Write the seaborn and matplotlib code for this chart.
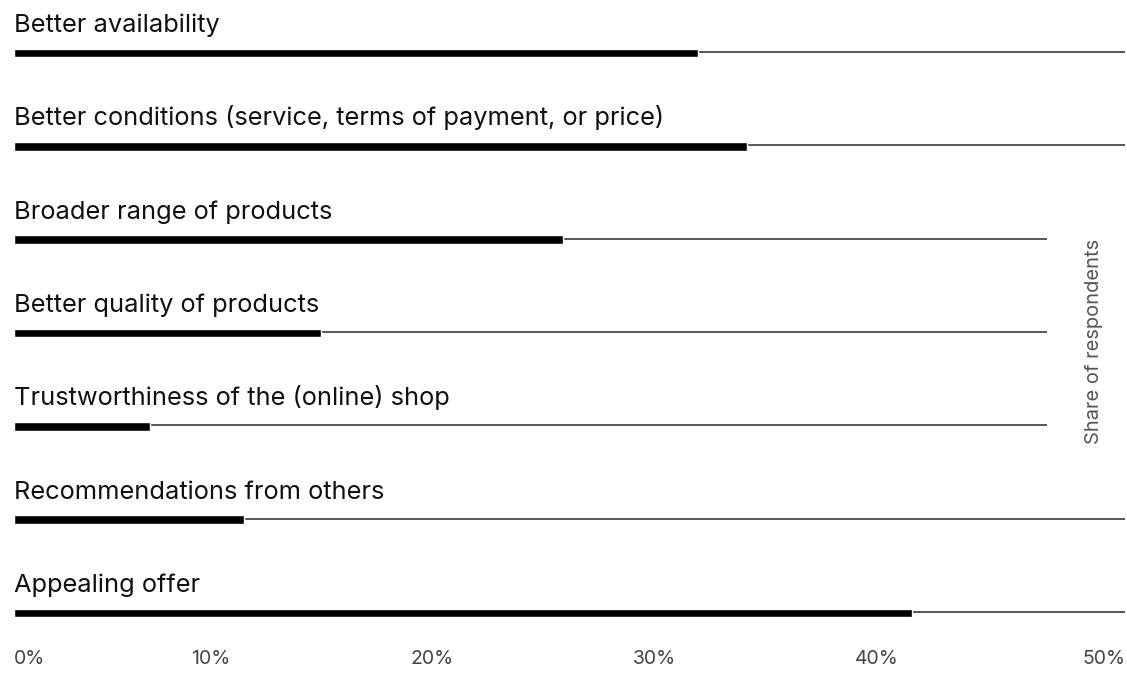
import matplotlib
matplotlib.use("Agg")
import seaborn as sns
import matplotlib.pyplot as plt
import matplotlib.transforms as mtrans

# data
categories = [
    "Better availability",
    "Better conditions (service, terms of payment, or price)",
    "Broader range of products",
    "Better quality of products",
    "Trustworthiness of the (online) shop",
    "Recommendations from others",
    "Appealing offer",
]
shares = [30.8, 33.0, 24.7, 13.8, 6.1, 10.35, 40.4]
tick_values = [0, 10, 20, 30, 40, 50]
tick_labels = ["0%", "10%", "20%", "30%", "40%", "50%"]
axis_label = "Share of respondents"

sns.set_theme(style="white")
plt.rcParams["font.family"] = ["Inter", "DejaVu Sans"]

W, H = 1127, 687
fig = plt.figure(figsize=(W / 100, H / 100), dpi=100)
# axes spans x 14..1125 px, y 0..640 px (from top)
ax = fig.add_axes([14 / W, 47 / H, 1111 / W, 640 / H])

row_px = 93.33
bar_h = 8.5 / row_px

# background tracks (shorter where the rotated label sits)
for i, cat in enumerate(categories):
    end = 46.5 if i in (2, 3, 4) else 50
    ax.hlines(i - 1.0 / row_px, 0, end, color="#3a3a3a", lw=1.2, zorder=1)

sns.barplot(x=shares, y=categories, orient="h", color="black", saturation=1,
            width=bar_h, ax=ax, zorder=2)

for i, cat in enumerate(categories):
    ax.text(0, i - 21 / row_px, cat, ha="left", va="baseline", fontsize=18.3,
            color="#111111", clip_on=False)

ax.set_xlim(0, 50)
ax.set_ylim(6 + (640 - 613) / row_px, -53 / row_px)
ax.set_xticks(tick_values)
ax.set_xticklabels(tick_labels)
ax.tick_params(axis="x", length=0, pad=7, labelsize=14, labelcolor="#444444")
shift = mtrans.ScaledTranslation(-26 / 100, 0, fig.dpi_scale_trans)
for j, lab in enumerate(ax.get_xticklabels()):
    if j == 0:
        lab.set_ha("left")
    elif j == len(tick_values) - 1:
        lab.set_ha("right")
    else:
        lab.set_transform(lab.get_transform() + shift)
ax.set_yticks([])
ax.set_xlabel("")
ax.set_ylabel("")
sns.despine(ax=ax, left=True, bottom=True)

fig.text(1094 / W, 1 - 341 / H, axis_label, rotation=90, ha="center",
         va="center", fontsize=14.5, color="#555555")

fig.savefig("out.png", dpi=100)
